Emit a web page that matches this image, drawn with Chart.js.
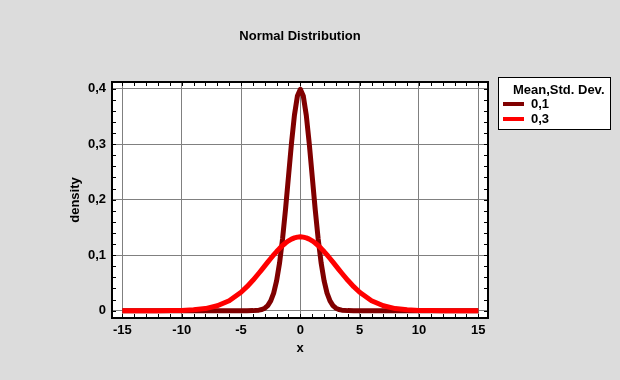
<!DOCTYPE html>
<html>
<head>
<meta charset="utf-8">
<script src="https://cdn.jsdelivr.net/npm/chart.js@4"></script>
<style>
html,body{margin:0;padding:0;background:#dcdcdc;}
#wrap{width:620px;height:380px;}
</style>
</head>
<body>
<div id="wrap"><canvas id="c" width="620" height="380"></canvas></div>
<script>
const chartTitle = 'Normal Distribution';
const legendTitle = 'Mean,Std. Dev.';
const seriesLabels = ['0,1', '0,3'];
const xValues = [-15,-14,-13,-12,-11,-10,-9,-8,-7,-6,-5,-4.5,-4,-3.5,-3.25,-3,-2.75,-2.5,-2.25,-2,-1.75,-1.5,-1.25,-1,-0.75,-0.5,-0.25,0,0.25,0.5,0.75,1,1.25,1.5,1.75,2,2.25,2.5,2.75,3,3.25,3.5,4,4.5,5,6,7,8,9,10,11,12,13,14,15];
const densitySd1 = [0,0,0,0,0,0,0,0,0,0,0,0,0.0001,0.0009,0.002,0.0044,0.0091,0.0175,0.0317,0.054,0.0863,0.1295,0.1826,0.242,0.3011,0.3521,0.3867,0.3989,0.3867,0.3521,0.3011,0.242,0.1826,0.1295,0.0863,0.054,0.0317,0.0175,0.0091,0.0044,0.002,0.0009,0.0001,0,0,0,0,0,0,0,0,0,0,0,0];
const densitySd3 = [0,0,0.00001,0.00004,0.00016,0.0005,0.0015,0.0038,0.0088,0.018,0.0332,0.0432,0.0547,0.0674,0.074,0.0807,0.0874,0.094,0.1004,0.1065,0.1122,0.1174,0.1219,0.1258,0.1289,0.1311,0.1325,0.133,0.1325,0.1311,0.1289,0.1258,0.1219,0.1174,0.1122,0.1065,0.1004,0.094,0.0874,0.0807,0.074,0.0674,0.0547,0.0432,0.0332,0.018,0.0088,0.0038,0.0015,0.0005,0.00016,0.00004,0.00001,0,0];
const xTicks = [-15,-10,-5,0,5,10,15];
const yTicks = [0,0.1,0.2,0.3,0.4];
const colors = ['#800000', '#ff0000'];

const FONT = 'Arial, "Liberation Sans", sans-serif';
const FS = 13;

const framePlugin = {
  id: 'frame',
  beforeDraw(chart) {
    const {ctx, chartArea: a} = chart;
    ctx.save();
    ctx.fillStyle = '#dcdcdc';
    ctx.fillRect(0, 0, chart.width, chart.height);
    ctx.fillStyle = '#ffffff';
    ctx.fillRect(a.left, a.top, a.right - a.left, a.bottom - a.top);
    ctx.restore();
  },
  afterDatasetsDraw(chart) {
    const {ctx, chartArea: a, scales} = chart;
    const xs = scales.x, ys = scales.y;
    ctx.save();
    ctx.strokeStyle = '#000';
    ctx.lineWidth = 1;
    ctx.beginPath();
    for (let v = -15; v <= 15; v += 1) {
      const px = Math.round(xs.getPixelForValue(v)) + 0.5;
      const len = 4;
      ctx.moveTo(px, a.bottom); ctx.lineTo(px, a.bottom - len);
      ctx.moveTo(px, a.top); ctx.lineTo(px, a.top + len);
    }
    for (let i = 0; i <= 20; i++) {
      const v = i * 0.02;
      const py = Math.round(ys.getPixelForValue(v)) + 0.5;
      const len = 4;
      ctx.moveTo(a.left, py); ctx.lineTo(a.left + len, py);
      ctx.moveTo(a.right, py); ctx.lineTo(a.right - len, py);
    }
    ctx.stroke();
    ctx.lineWidth = 2;
    ctx.strokeRect(a.left, a.top, a.right - a.left, a.bottom - a.top);
    ctx.restore();
  },
  afterDraw(chart) {
    const {ctx, chartArea: a} = chart;
    ctx.save();
    ctx.fillStyle = '#000';
    ctx.font = 'bold ' + FS + 'px ' + FONT;
    ctx.textAlign = 'center';
    ctx.textBaseline = 'middle';
    ctx.fillText(chartTitle, (a.left + a.right) / 2, 36);
    const lx = 498, ly = 77, lw = 112, lh = 52;
    ctx.fillStyle = '#fff';
    ctx.fillRect(lx, ly, lw, lh);
    ctx.strokeStyle = '#000';
    ctx.lineWidth = 1;
    ctx.strokeRect(lx + 0.5, ly + 0.5, lw, lh);
    ctx.fillStyle = '#000';
    ctx.textAlign = 'left';
    ctx.fillText(legendTitle, 513, 90);
    chart.data.datasets.forEach((ds, i) => {
      const yy = 104 + i * 15;
      ctx.strokeStyle = ds.borderColor;
      ctx.lineWidth = 4;
      ctx.beginPath();
      ctx.moveTo(503, yy); ctx.lineTo(524, yy);
      ctx.stroke();
      ctx.fillStyle = '#000';
      ctx.fillText(ds.label, 531, yy);
    });
    ctx.restore();
  }
};

new Chart(document.getElementById('c'), {
  type: 'line',
  data: {
    datasets: [
      {label: seriesLabels[0], data: xValues.map((x, i) => ({x, y: densitySd1[i]})), borderColor: colors[0], backgroundColor: colors[0], borderWidth: 5, borderJoinStyle: 'round', pointRadius: 0, tension: 0, order: 1},
      {label: seriesLabels[1], data: xValues.map((x, i) => ({x, y: densitySd3[i]})), borderColor: colors[1], backgroundColor: colors[1], borderWidth: 5, borderJoinStyle: 'round', pointRadius: 0, tension: 0, order: 0}
    ]
  },
  options: {
    responsive: false,
    animation: false,
    events: [],
    layout: {padding: {left: 0, right: 132, top: 82, bottom: 0}},
    plugins: {legend: {display: false}, title: {display: false}, tooltip: {enabled: false}},
    scales: {
      x: {
        type: 'linear', min: -15.88, max: 15.82,
        afterFit(s) { s.height = 62; },
        afterBuildTicks(s) { s.ticks = xTicks.map(v => ({value: v})); },
        ticks: {color: '#000', font: {family: FONT, size: FS, weight: 'bold'}, padding: 5, maxRotation: 0, autoSkip: false, callback: v => String(v)},
        grid: {color: '#808080', lineWidth: 1, drawTicks: false},
        border: {display: false},
        title: {display: true, text: 'x', color: '#000', font: {family: FONT, size: FS, weight: 'bold'}, padding: {top: 0, bottom: 24}}
      },
      y: {
        type: 'linear', min: -0.0132, max: 0.412,
        afterFit(s) { s.width = 112; },
        afterBuildTicks(s) { s.ticks = yTicks.map(v => ({value: v})); },
        ticks: {color: '#000', font: {family: FONT, size: FS, weight: 'bold'}, padding: 6, autoSkip: false, callback: v => String(Math.round(v * 10) / 10).replace('.', ',')},
        grid: {color: '#808080', lineWidth: 1, drawTicks: false},
        border: {display: false},
        title: {display: true, text: 'density', color: '#000', font: {family: FONT, size: FS, weight: 'bold'}, padding: {top: 68, bottom: 0}}
      }
    }
  },
  plugins: [framePlugin]
});
</script>
</body>
</html>
